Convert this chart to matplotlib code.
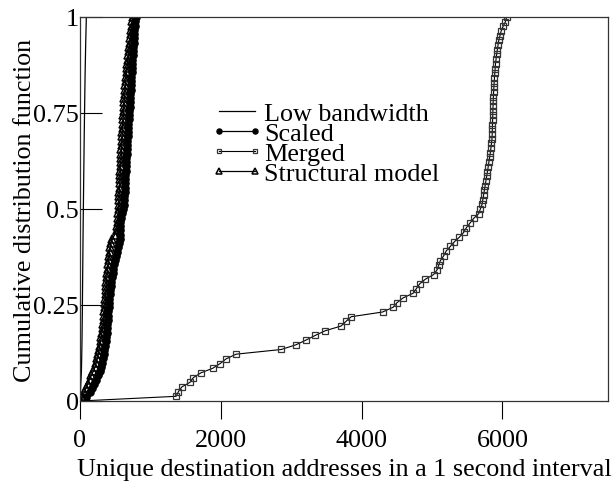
import numpy as np
import matplotlib
matplotlib.use("Agg")
from matplotlib import pyplot as plt

low_bandwidth = [0, 20, 28, 33, 37, 41, 45, 50, 55, 60, 66, 72, 80, 90]

scaled = [0, 80, 135, 175, 205, 230, 255, 280, 298, 312,
          325, 337, 348, 356, 364, 372, 379, 385, 390, 395,
          399, 403, 408, 413, 419, 425, 432, 439, 446, 453,
          462, 472, 483, 496, 512, 528, 545, 556, 562, 566,
          569, 572, 575, 584, 600, 615, 622, 626, 630, 633,
          636, 639, 642, 645, 648, 651, 655, 658, 662, 665,
          669, 672, 676, 680, 684, 688, 692, 697, 701, 705,
          709, 713, 717, 720, 723, 727, 730, 734, 737, 741,
          744, 748, 752, 756, 760, 764, 769, 774, 780, 786, 795]

merged = [0, 1365, 1398, 1446, 1564, 1611, 1716, 1887, 1991, 2076,
          2218, 2858, 3067, 3209, 3341, 3483, 3707, 3778, 3853, 4298,
          4446, 4503, 4588, 4731, 4778, 4824, 4905, 5023, 5072, 5095,
          5119, 5166, 5200, 5260, 5318, 5390, 5450, 5488, 5540, 5592,
          5663, 5687, 5711, 5722, 5733, 5744, 5755, 5766, 5777, 5788,
          5798, 5808, 5818, 5828, 5837, 5845, 5852, 5855, 5857, 5859,
          5861, 5863, 5865, 5867, 5869, 5872, 5875, 5879, 5883, 5887,
          5892, 5897, 5902, 5910, 5918, 5928, 5938, 5948, 5965, 5982,
          6010, 6043, 6060]

structural = [0, 30, 60, 85, 110, 135, 160, 190, 215, 232,
              247, 260, 272, 282, 292, 302, 311, 320, 328, 335,
              341, 346, 351, 356, 360, 364, 368, 372, 376, 381,
              387, 393, 400, 407, 414, 421, 428, 436, 460, 495,
              520, 530, 537, 541, 544, 547, 550, 553, 556, 559,
              562, 565, 568, 571, 574, 577, 580, 583, 586, 589,
              592, 595, 598, 601, 604, 607, 610, 614, 618, 622,
              626, 630, 635, 640, 645, 650, 655, 661, 667, 673,
              679, 685, 692, 699, 706, 713, 720, 728, 736, 745, 755]

xticks = [0, 2000, 4000, 6000]
yticks = [0, 0.25, 0.5, 0.75, 1]
ytick_labels = ["0", "0.25", "0.5", "0.75", "1"]


def cdf(samples):
    x = np.sort(np.asarray(samples, dtype=float))
    y = np.arange(len(x)) / (len(x) - 1)
    return x, y


plt.rcParams['font.family'] = ['Liberation Serif', 'DejaVu Serif']
fs = 18.8

fig = plt.figure(figsize=(6.16, 4.89), dpi=100)
ax = fig.add_axes([80 / 616, 1 - 402 / 489, 528 / 616, 384 / 489])

x, y = cdf(low_bandwidth)
ax.plot(x, y, color='black', lw=0.9, label='Low bandwidth')
x, y = cdf(scaled)
ax.plot(x, y, color='black', lw=0.9, marker='o', ms=5.2,
        mfc='black', mec='black', label='Scaled')
x, y = cdf(merged)
ax.plot(x, y, color='black', lw=0.8, marker='s', ms=5, mfc='none',
        mec='#333333', mew=0.9, label='Merged')
x, y = cdf(structural)
ax.plot(x, y, color='black', lw=0.9, marker='^', ms=5.5, mfc='none',
        mec='black', mew=1.1, label='Structural model')

ax.set_xlim(0, 7500)
ax.set_ylim(0, 1)
ax.set_xticks(xticks)
ax.set_xticklabels([str(t) for t in xticks])
ax.set_yticks(yticks)
ax.set_yticklabels(ytick_labels)
ax.tick_params(axis='x', direction='out', length=13, width=0.8,
               labelsize=fs, pad=7)
ax.tick_params(axis='y', direction='in', length=16, width=0.8,
               labelsize=fs, pad=1)
for s in ax.spines.values():
    s.set_linewidth(0.9)
    s.set_color('#333333')

ax.set_xlabel('Unique destination addresses in a 1 second interval',
              fontsize=fs, labelpad=5)
ax.set_ylabel('Cumulative distribution function', fontsize=fs, labelpad=-2)

ax.legend(loc='upper left', bbox_to_anchor=(0.248, 0.78), frameon=False,
          fontsize=fs, numpoints=2, markerscale=0.7, handlelength=2.0,
          handletextpad=0.05, labelspacing=-0.12, borderpad=0,
          borderaxespad=0)

fig.savefig('out.png', dpi=100)
